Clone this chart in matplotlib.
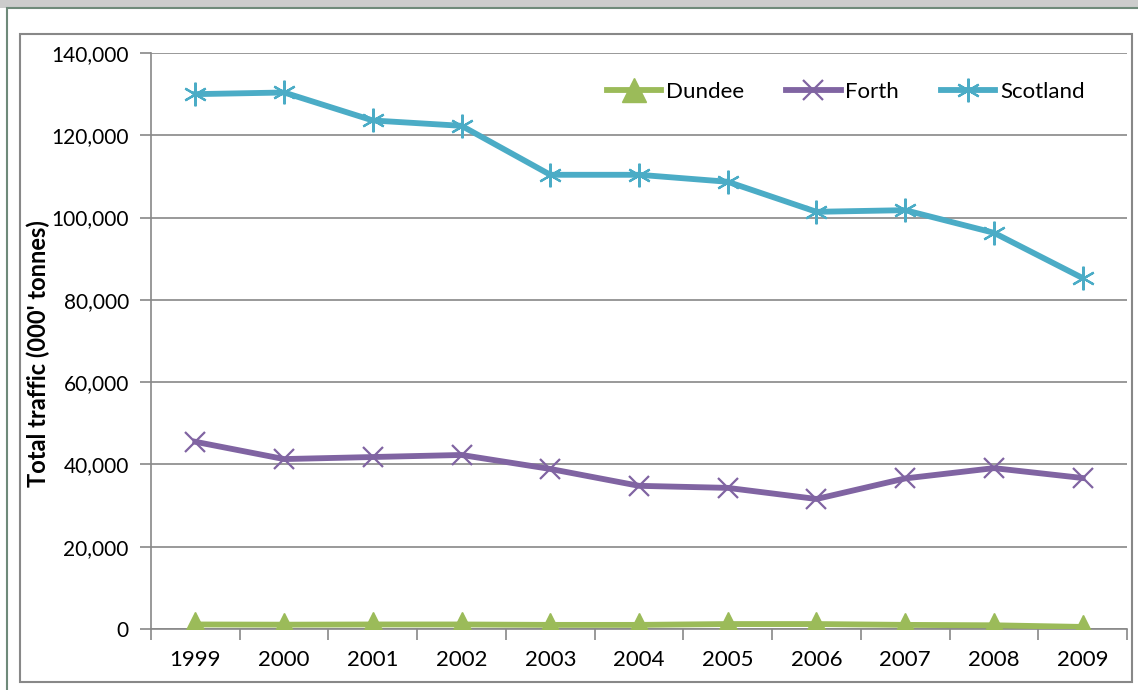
import matplotlib.pyplot as plt
from matplotlib.patches import Rectangle
from matplotlib.ticker import FuncFormatter, FixedLocator
import numpy as np

plt.rcParams['font.family'] = ['Lato', 'DejaVu Sans']

years = ['1999', '2000', '2001', '2002', '2003', '2004', '2005', '2006', '2007', '2008', '2009']
dundee = [1100, 1050, 1100, 1100, 1000, 1000, 1200, 1200, 1000, 900, 500]
forth = [45500, 41300, 41800, 42300, 38900, 34800, 34300, 31600, 36600, 39100, 36700]
scotland = [130000, 130400, 123600, 122300, 110400, 110400, 108700, 101400, 101800, 96300, 85300]

fig = plt.figure(figsize=(11.38, 6.9), dpi=100)

# grey strip at the top and the two frames around the chart
fig.patches.append(Rectangle((0, 1 - 8 / 690), 1, 8 / 690, transform=fig.transFigure,
                             facecolor='#cccccc', edgecolor='none', zorder=-3))
fig.patches.append(Rectangle((6.5 / 1138, -0.01), 1.0, 1 - 8 / 690 + 0.01, transform=fig.transFigure,
                             facecolor='white', edgecolor='#6f8a7a', lw=1.5, zorder=-2))
fig.patches.append(Rectangle((20.5 / 1138, 1 - 682 / 690), (1131.5 - 20.5) / 1138, (682 - 34) / 690,
                             transform=fig.transFigure, facecolor='white',
                             edgecolor='#888888', lw=1.5, zorder=-1))

ax = fig.add_axes([151 / 1138, 1 - 629 / 690, (1127 - 151) / 1138, (629 - 53) / 690])
ax.set_zorder(2)
ax.patch.set_alpha(0)

x = np.arange(len(years))
ax.plot(x, dundee, color='#9bbb59', lw=4.2, marker='^', ms=17, label='Dundee', zorder=3)
ax.plot(x, forth, color='#8064a2', lw=4.2, marker='x', ms=15, mew=1.6, label='Forth', zorder=3)
ax.plot(x, scotland, color='#4bacc6', lw=4.2, marker=(6, 2, 0), ms=17, mew=1.6, label='Scotland', zorder=3)

ax.set_xlim(-0.5, len(years) - 0.5)
ax.set_ylim(0, 140000)
ax.set_yticks(np.arange(0, 140001, 20000))
ax.yaxis.set_major_formatter(FuncFormatter(lambda v, p: f'{int(v):,}'))
ax.yaxis.grid(True, color='#888888', lw=1.2)
ax.set_axisbelow(True)

ax.set_xticks(x)
ax.set_xticklabels(years)
ax.xaxis.set_minor_locator(FixedLocator(np.arange(-0.5, len(years), 1)))
ax.tick_params(axis='x', which='major', length=0, pad=15, labelsize=16)
ax.tick_params(axis='x', which='minor', length=8, width=1.2, color='#888888', direction='out')
ax.tick_params(axis='y', length=8, width=1.2, color='#888888', labelsize=15, pad=8)

for s in ['top', 'right']:
    ax.spines[s].set_visible(False)
for s in ['left', 'bottom']:
    ax.spines[s].set_color('#888888')
    ax.spines[s].set_linewidth(1.2)

fig.text(38 / 1138, 1 - 354 / 690, "Total traffic (000' tonnes)", rotation=90,
         fontsize=17, fontweight='bold', ha='center', va='center')

ax.legend(loc='center right', bbox_to_anchor=(0.977, 0.932), ncol=3, frameon=False,
          fontsize=16, handlelength=2.45, handletextpad=0.2, columnspacing=1.9)

fig.savefig('out.png', dpi=100)
